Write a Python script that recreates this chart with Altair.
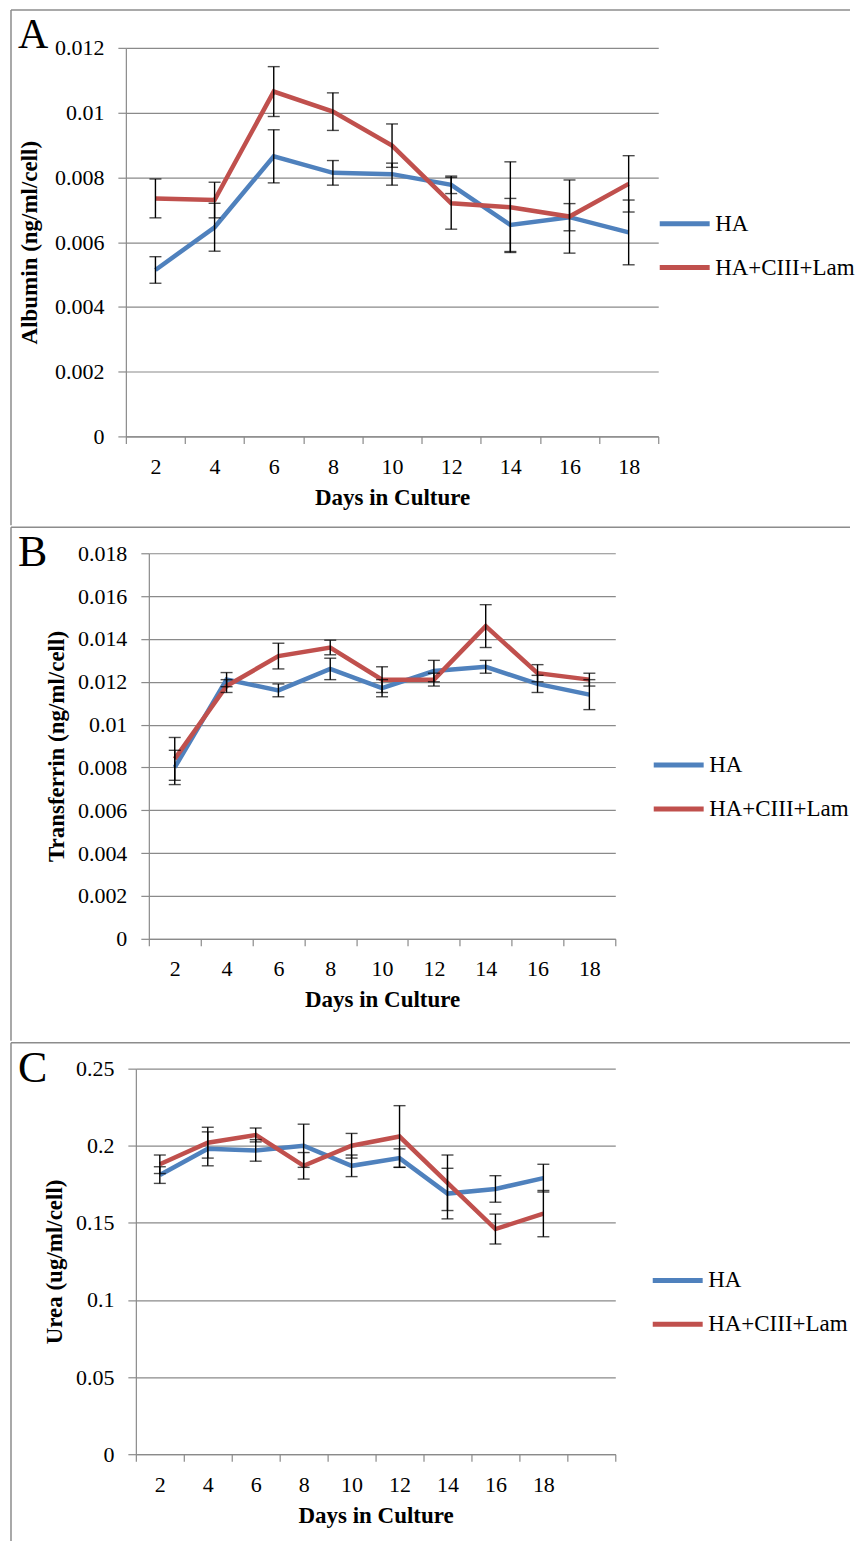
import altair as alt
import pandas as pd

# ---------------- data ----------------
days = ["2", "4", "6", "8", "10", "12", "14", "16", "18"]
series_names = ["HA", "HA+CIII+Lam"]
series_colors = ["#4F81BD", "#C0504D"]

albumin_ha = [0.00514, 0.00646, 0.00865, 0.00814, 0.00810, 0.00777, 0.00653, 0.00677, 0.00630]
albumin_ha_err = [0.00041, 0.00074, 0.00082, 0.00038, 0.00034, 0.00027, 0.00082, 0.00042, 0.00100]
albumin_lam = [0.00735, 0.00730, 0.01065, 0.01003, 0.00898, 0.00720, 0.00708, 0.00679, 0.00780]
albumin_lam_err = [0.00060, 0.00055, 0.00077, 0.00058, 0.00067, 0.00080, 0.00140, 0.00113, 0.00087]

transferrin_ha = [0.0080, 0.0121, 0.0116, 0.0126, 0.0117, 0.0125, 0.0127, 0.0119, 0.0114]
transferrin_ha_err = [0.0008, 0.00033, 0.0003, 0.0005, 0.0004, 0.0005, 0.0003, 0.0004, 0.0007]
transferrin_lam = [0.0084, 0.0118, 0.0132, 0.0136, 0.0121, 0.0121, 0.0146, 0.0124, 0.0121]
transferrin_lam_err = [0.0010, 0.0003, 0.0006, 0.00034, 0.0006, 0.0003, 0.0010, 0.0004, 0.0003]

urea_ha = [0.181, 0.198, 0.197, 0.200, 0.187, 0.192, 0.169, 0.172, 0.179]
urea_ha_err = [0.0054, 0.011, 0.007, 0.014, 0.007, 0.006, 0.0164, 0.0086, 0.009]
urea_lam = [0.188, 0.202, 0.207, 0.187, 0.200, 0.206, 0.176, 0.146, 0.156]
urea_lam_err = [0.006, 0.010, 0.0045, 0.0086, 0.008, 0.020, 0.018, 0.0097, 0.015]

albumin_ticks = [0, 0.002, 0.004, 0.006, 0.008, 0.01, 0.012]
transferrin_ticks = [0, 0.002, 0.004, 0.006, 0.008, 0.01, 0.012, 0.014, 0.016, 0.018]
urea_ticks = [0, 0.05, 0.1, 0.15, 0.2, 0.25]

FONT = "Liberation Serif"
GRID = "#8a8a8a"
BORDER = "#8c8c8c"
GROUP_X = 126          # common left of every panel's view group (page px)
BORDER_X = 11
RIGHT_EDGE = 851


def make_df(ha, ha_err, lam, lam_err):
    rows = []
    for s, vals, errs in ((series_names[0], ha, ha_err), (series_names[1], lam, lam_err)):
        for i, (d, v, e) in enumerate(zip(days, vals, errs)):
            rows.append({"day": d, "idx": i, "series": s, "value": v, "lo": v - e, "hi": v + e})
    return pd.DataFrame(rows)


def panel(df, letter, ytitle, ymax, yticks, xdomain,
          plot_left, plot_right, plot_top, plot_bottom, group_top,
          panel_top, panel_bottom, letter_base, letter_size, legend_line_x, legend_center_y,
          ytitle_pad):
    x0 = plot_left - GROUP_X
    x1 = plot_right - GROUP_X
    y0 = plot_top - group_top
    y1 = plot_bottom - group_top
    width = x1
    height = y1

    xaxis = alt.Axis(title="Days in Culture", labelAngle=0, tickBand="extent", grid=False,
                     labelFont=FONT, labelFontSize=22, labelColor="black", labelPadding=13,
                     tickSize=7, tickColor=GRID, tickWidth=1.2, domainColor=GRID, domainWidth=1.2,
                     titleFont=FONT, titleFontSize=23, titleFontWeight="bold", titleColor="black",
                     titlePadding=9)
    x = alt.X("day:N",
              scale=alt.Scale(type="band", domain=xdomain, range=[x0, x1],
                              paddingInner=0, paddingOuter=0),
              bandPosition=0.5, axis=xaxis)
    yaxis = alt.Axis(title=ytitle, values=yticks, labelExpr="format(datum.value, '~g')",
                     grid=True, gridColor=GRID, gridWidth=1.2, offset=-x0,
                     labelFont=FONT, labelFontSize=22, labelColor="black", labelPadding=14,
                     tickSize=8, tickColor=GRID, tickWidth=1.2, domainColor=GRID, domainWidth=1.2,
                     titleFont=FONT, titleFontSize=23, titleFontWeight="bold", titleColor="black",
                     titlePadding=ytitle_pad)
    yscale = alt.Scale(domain=[0, ymax], range=[y1, y0], nice=False, zero=True)

    def Y(field):
        return alt.Y(field + ":Q", scale=yscale, axis=yaxis)

    base = alt.Chart(df)
    lines = base.mark_line(strokeWidth=4.5).encode(
        x=x, y=Y("value"),
        color=alt.Color("series:N", scale=alt.Scale(domain=series_names, range=series_colors),
                        legend=alt.Legend(orient="none",
                                          legendX=legend_line_x - GROUP_X + 15,
                                          legendY=legend_center_y - group_top - 11.5,
                                          title=None, direction="vertical",
                                          symbolType="M-2.5,0H2.5", symbolSize=400,
                                          symbolStrokeWidth=5, labelFont=FONT, labelFontSize=23,
                                          labelColor="black", labelOffset=18, rowPadding=19,
                                          padding=0)),
        order=alt.Order("idx:Q"),
    )
    bars = base.mark_rule(color="black", strokeWidth=1.4).encode(x=x, y=Y("lo"), y2="hi:Q")
    caps_lo = base.mark_tick(color="black", size=12, thickness=1.4).encode(x=x, y=Y("lo"))
    caps_hi = base.mark_tick(color="black", size=12, thickness=1.4).encode(x=x, y=Y("hi"))

    one = pd.DataFrame({"t": [letter]})
    lx = BORDER_X - GROUP_X
    rx = RIGHT_EDGE - GROUP_X
    ty = panel_top - group_top
    by = panel_bottom - group_top
    top_rule = alt.Chart(one).mark_rule(color=BORDER, strokeWidth=1.5).encode(
        x=alt.value(lx), x2=alt.value(rx), y=alt.value(ty))
    left_rule = alt.Chart(one).mark_rule(color=BORDER, strokeWidth=1.5).encode(
        x=alt.value(lx), y=alt.value(ty), y2=alt.value(by))
    label = alt.Chart(one).mark_text(font=FONT, fontSize=letter_size, align="left",
                                     baseline="alphabetic", color="black").encode(
        text="t:N", x=alt.value(18 - GROUP_X), y=alt.value(letter_base - group_top))

    return alt.layer(top_rule, left_rule, label, lines, bars, caps_lo, caps_hi).properties(
        width=width, height=height)


df_a = make_df(albumin_ha, albumin_ha_err, albumin_lam, albumin_lam_err)
df_b = make_df(transferrin_ha, transferrin_ha_err, transferrin_lam, transferrin_lam_err)
df_c = make_df(urea_ha, urea_ha_err, urea_lam, urea_lam_err)

# every panel: border 26px above its view group, border at x=11, group at x=126
panel_a = panel(df_a, "A", "Albumin  (ng/ml/cell)", 0.012, albumin_ticks, days,
                126, 659, 47, 436, 35, 9, 525, 47, 42, 658, 222, 13)
panel_b = panel(df_b, "B", "Transferrin (ng/ml/cell)", 0.018, transferrin_ticks, days,
                149, 616, 552, 938, 552, 526, 1040, 565, 44, 652, 763, 9)
panel_c = panel(df_c, "C", "Urea (ug/ml/cell)", 0.25, urea_ticks, days + [""],
                136, 616, 1070, 1456, 1070, 1044, 1543, 1083, 44, 651, 1281, 9)

chart = alt.concat(panel_a, panel_b, panel_c, columns=1, spacing=0).resolve_scale(
    x="independent", y="independent", color="independent"
).properties(
    padding={"left": 2, "top": 0, "right": 0, "bottom": 0},
    background="white",
).configure_view(stroke=None)

chart.save("out.html", embed_options={"renderer": "svg", "actions": False})
